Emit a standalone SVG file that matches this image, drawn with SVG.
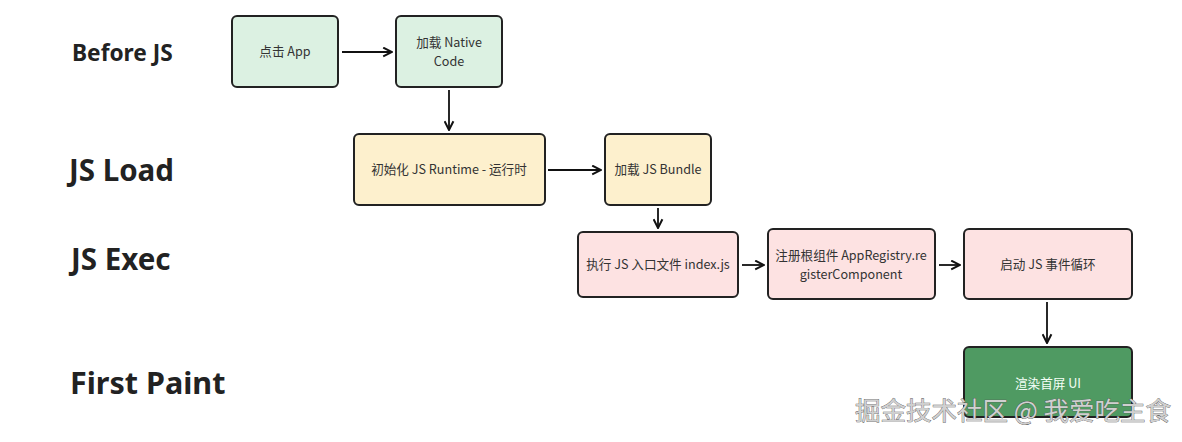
<svg xmlns="http://www.w3.org/2000/svg" width="1182" height="442" viewBox="0 0 1182 442">
<defs>
<marker id="ah" viewBox="0 0 10 10" refX="9" refY="5" markerWidth="11" markerHeight="11" markerUnits="userSpaceOnUse" orient="auto">
<path d="M1,1 L9,5 L1,9" fill="none" stroke="#111" stroke-width="1.8"/>
</marker>
<style>
.lane{font-family:"Noto Sans","Noto Sans CJK SC",sans-serif;font-weight:700;fill:#222;}
.box{stroke:#222;stroke-width:2;}
.g{fill:#dcf1e2;}
.y{fill:#fdf0cd;}
.p{fill:#fde2e2;}
.dg{fill:#4f9a62;}
.t{font-family:"Noto Sans CJK SC","Noto Sans",sans-serif;font-size:12.6px;fill:#333;text-anchor:middle;}
.tw{fill:#f4fff6;}
.conn{stroke:#111;stroke-width:1.8;fill:none;marker-end:url(#ah);}
.wm{font-family:"Noto Sans CJK SC",sans-serif;font-size:25.5px;fill:#d0d0d0;stroke:#555;stroke-width:0.7;paint-order:stroke;}
</style>
</defs>
<g id="lanes">
<text class="lane" x="72" y="61" font-size="22.7">Before JS</text>
<text class="lane" x="69" y="181" font-size="29.5">JS Load</text>
<text class="lane" x="71" y="270" font-size="29.5">JS Exec</text>
<text class="lane" x="70" y="394" font-size="30.5">First Paint</text>
</g>
<g id="connectors">
<line class="conn" x1="342" y1="52" x2="392" y2="52"/>
<line class="conn" x1="449" y1="90" x2="449" y2="130"/>
<line class="conn" x1="548" y1="170" x2="601" y2="170"/>
<line class="conn" x1="658" y1="208" x2="658" y2="228"/>
<line class="conn" x1="742" y1="265" x2="764" y2="265"/>
<line class="conn" x1="939" y1="265" x2="960" y2="265"/>
<line class="conn" x1="1047" y1="302" x2="1047" y2="343"/>
</g>
<g id="n1"><rect class="box g" x="232" y="16" width="106" height="71" rx="5"/><text class="t" x="285" y="56">点击 App</text></g>
<g id="n2"><rect class="box g" x="396" y="16" width="106" height="71" rx="5"/><text class="t" x="449" y="47">加载 Native</text><text class="t" x="449" y="66">Code</text></g>
<g id="n3"><rect class="box y" x="354" y="134" width="191" height="71" rx="5"/><text class="t" x="449" y="174">初始化 JS Runtime - 运行时</text></g>
<g id="n4"><rect class="box y" x="605" y="134" width="106" height="71" rx="5"/><text class="t" x="658" y="174">加载 JS Bundle</text></g>
<g id="n5"><rect class="box p" x="578" y="232" width="160" height="65" rx="5"/><text class="t" x="658" y="269">执行 JS 入口文件 index.js</text></g>
<g id="n6"><rect class="box p" x="768" y="229" width="167" height="70" rx="5"/><text class="t" x="851" y="260">注册根组件 AppRegistry.re</text><text class="t" x="851" y="279">gisterComponent</text></g>
<g id="n7"><rect class="box p" x="964" y="229" width="168" height="70" rx="5"/><text class="t" x="1048" y="269">启动 JS 事件循环</text></g>
<g id="n8"><rect class="box dg" x="964" y="347" width="168" height="70" rx="5"/><text class="t tw" x="1048" y="388">渲染首屏 UI</text></g>
<text class="wm" x="855" y="420">掘金技术社区 @ 我爱吃主食</text>
</svg>
